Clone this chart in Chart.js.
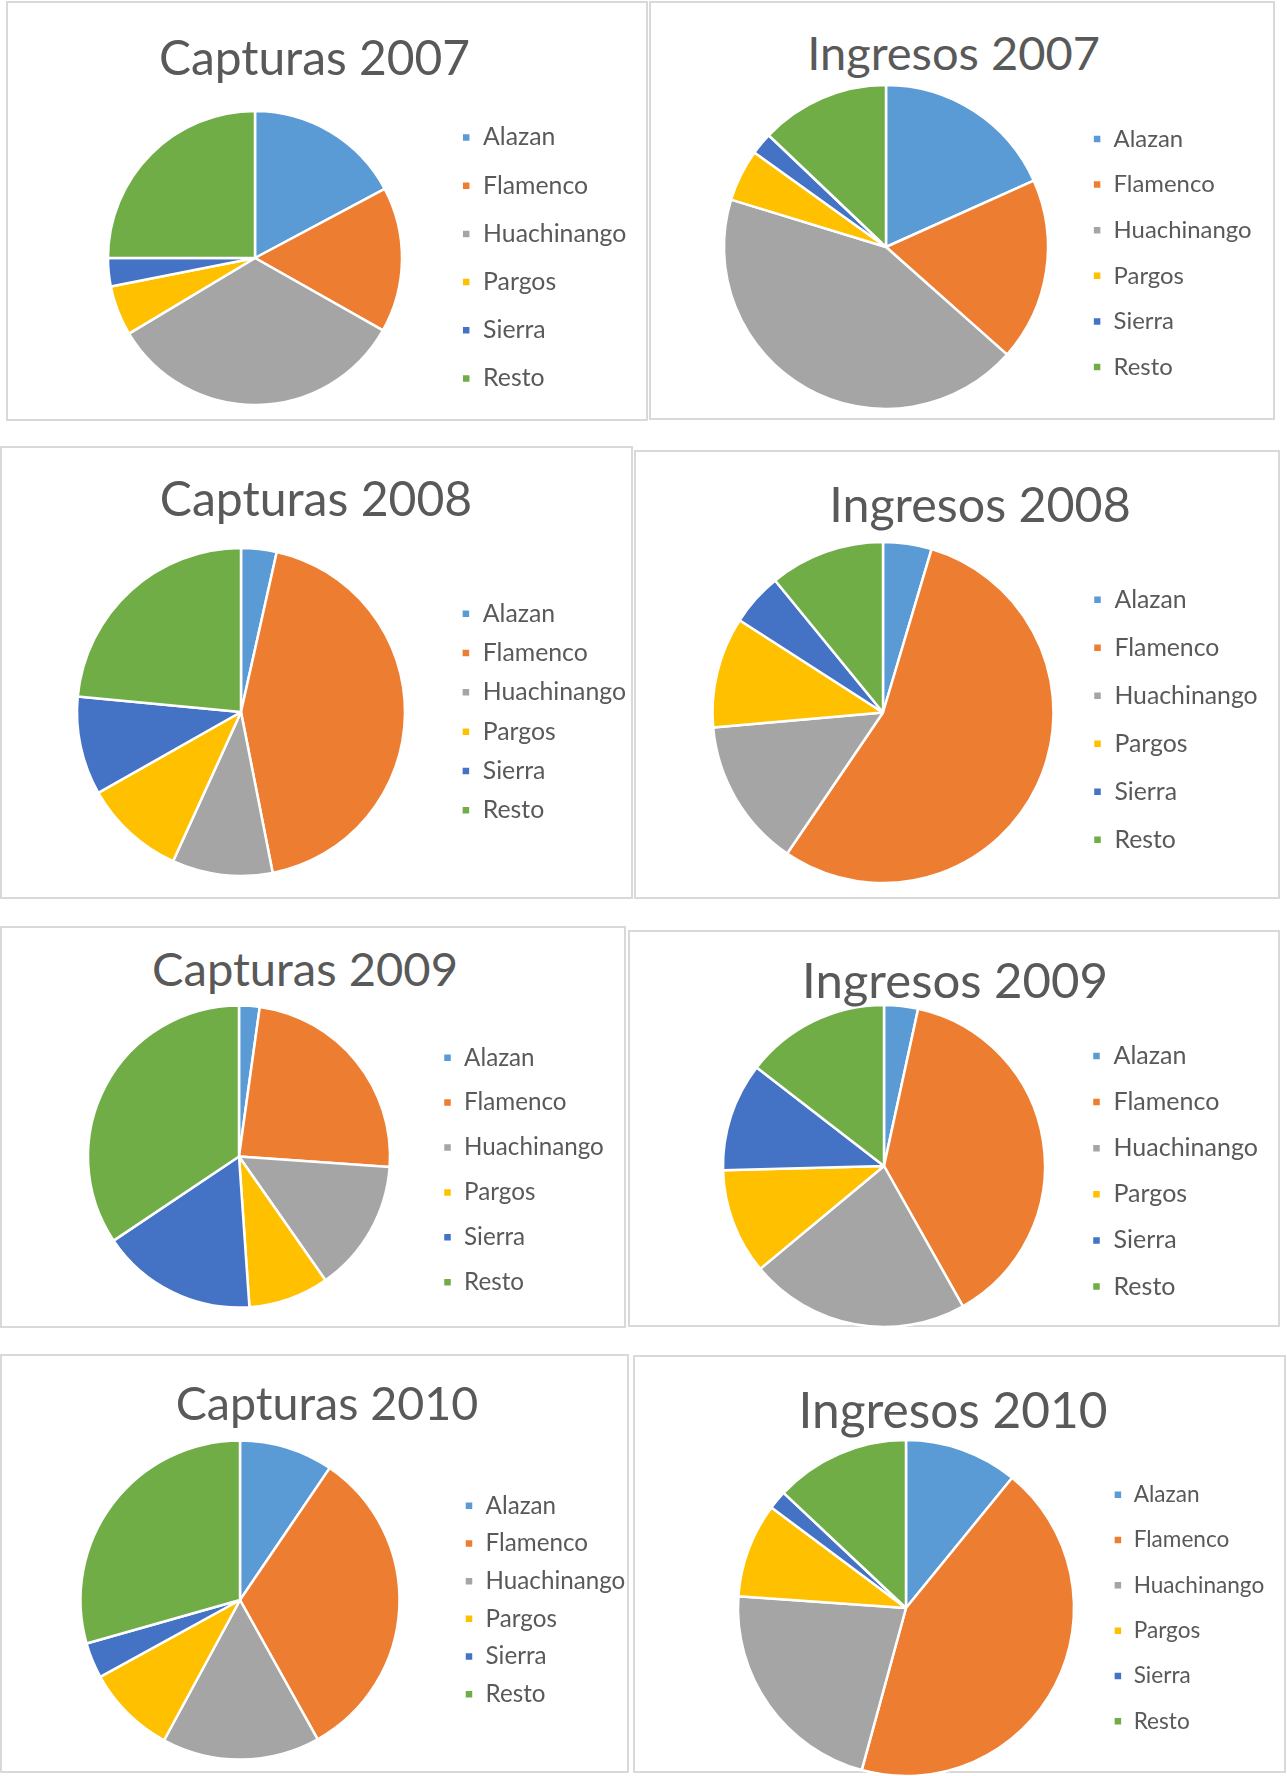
<!DOCTYPE html>
<html>
<head>
<meta charset="utf-8">
<script src="https://cdn.jsdelivr.net/npm/chart.js@4.4.1/dist/chart.umd.min.js"></script>
<style>
    html, body { margin: 0; padding: 0; background: #fff; }
    body { position: relative; width: 1287px; height: 1776px; overflow: hidden; font-family: Lato, sans-serif; }
    .caja { position: absolute; box-sizing: border-box; border: 2px solid #d9d9d9; }
    .titulo { position: absolute; color: #595959; white-space: nowrap; line-height: 1; transform: translateX(-50%); z-index: 2; }
    canvas { position: absolute; z-index: 1; }
</style>
</head>
<body>
<script>
// categorias (leyenda)
const categorias = ['Alazan', 'Flamenco', 'Huachinango', 'Pargos', 'Sierra', 'Resto'];

const capturas2007 = [17.2, 16.0, 33.2, 5.5, 3.1, 25.0];
const ingresos2007 = [18.3, 18.3, 43.2, 5.2, 2.2, 12.9];
const capturas2008 = [3.5, 43.4, 9.9, 10.0, 9.7, 23.5];
const ingresos2008 = [4.6, 54.9, 14.1, 10.5, 5.0, 10.9];
const capturas2009 = [2.2, 23.9, 14.2, 8.6, 16.7, 34.4];
const ingresos2009 = [3.4, 38.4, 22.1, 10.6, 10.9, 14.5];
const capturas2010 = [9.5, 32.4, 16.0, 9.1, 3.6, 29.4];
const ingresos2010 = [10.9, 43.4, 21.9, 9.1, 1.8, 13.0];

const titulos = ['Capturas 2007', 'Ingresos 2007', 'Capturas 2008', 'Ingresos 2008',
                 'Capturas 2009', 'Ingresos 2009', 'Capturas 2010', 'Ingresos 2010'];
const series = [capturas2007, ingresos2007, capturas2008, ingresos2008,
                capturas2009, ingresos2009, capturas2010, ingresos2010];

const colores = ['#5b9bd5', '#ed7d31', '#a5a5a5', '#ffc000', '#4472c4', '#70ad47'];

// posiciones de cada recuadro: caja [x,y,w,h], titulo [cx, y medio, tamaño],
// pastel [cx, cy, radio], leyenda [x cuadrito, paso entre filas, tamaño letra, y primera fila (0 = centrada)]
const paneles = [
    {caja: [6, 1, 642, 420],     titulo: [314.5, 58, 47.9],   pie: [255, 258, 146],    leyenda: [461.7, 48.2, 24.8, 0]},
    {caja: [649, 1, 626, 419],   titulo: [953.6, 53, 47],     pie: [886, 247, 161],    leyenda: [1092.6, 45.6, 23.9, 139]},
    {caja: [0, 446, 633, 453],   titulo: [316, 499.5, 48.1],  pie: [241, 712, 163],    leyenda: [461.4, 39.3, 24.8, 0]},
    {caja: [634, 450, 646, 449], titulo: [980, 504, 48.4],    pie: [883, 712, 169.5],  leyenda: [1093, 48, 24.8, 599.3]},
    {caja: [0, 926, 626, 402],   titulo: [305, 969, 47.1],    pie: [239, 1156, 150],   leyenda: [443, 44.9, 24.2, 1057.3]},
    {caja: [628, 930, 652, 397], titulo: [955, 981, 49.1],    pie: [884, 1166, 160],   leyenda: [1092, 46.1, 25, 1056]},
    {caja: [0, 1354, 629, 419],  titulo: [327, 1403, 46.6],   pie: [240, 1600, 158.5], leyenda: [464.5, 37.7, 24.2, 0]},
    {caja: [633, 1355, 653, 418],titulo: [953, 1410.7, 49.6], pie: [906, 1608, 167],   leyenda: [1113.4, 45.3, 22.6, 0]}
];

const cuadro = 9;

paneles.forEach(function (p, i) {
    const [bx, by, bw, bh] = p.caja;
    const caja = document.createElement('div');
    caja.className = 'caja';
    Object.assign(caja.style, {left: bx + 'px', top: by + 'px', width: bw + 'px', height: bh + 'px'});
    document.body.appendChild(caja);

    const [tx, ty, ts] = p.titulo;
    const t = document.createElement('div');
    t.className = 'titulo';
    t.textContent = titulos[i];
    Object.assign(t.style, {left: tx + 'px', top: (ty - 0.52 * ts) + 'px', fontSize: ts + 'px'});
    document.body.appendChild(t);

    const [cx, cy, r] = p.pie;
    const [lx, paso, fs, y1] = p.leyenda;
    const pad = paso - fs;

    // medio alto del area: centrada, o pegada abajo para que la leyenda empiece en y1
    let alto = 200;
    let alinear = 'center';
    if (y1) {
        alinear = 'end';
        alto = (y1 - fs / 2 + 6 * paso) - cy;
    }
    const medioCanvas = Math.max(alto, r + 6);
    const extra = medioCanvas - alto;

    const cv = document.createElement('canvas');
    cv.width = bw;
    cv.height = Math.round(2 * medioCanvas);
    cv.style.left = bx + 'px';
    cv.style.top = (cy - cv.height / 2) + 'px';
    document.body.appendChild(cv);

    // ancho de la leyenda para dejar el pastel donde va (+10 que agrega chart.js)
    const ctx = cv.getContext('2d');
    ctx.font = fs + 'px Lato';
    const anchoTexto = Math.max.apply(null, categorias.map(c => ctx.measureText(c).width));
    const anchoLeyenda = pad + cuadro + fs / 2 + anchoTexto + 10;
    const izqLeyenda = lx - bx - pad;
    const padIzq = 2 * (cx - bx) - izqLeyenda;
    const padDer = bw - izqLeyenda - anchoLeyenda;

    new Chart(cv, {
        type: 'pie',
        data: {
            labels: categorias,
            datasets: [{
                data: series[i],
                backgroundColor: colores,
                borderColor: '#ffffff',
                borderWidth: 2.5,
                clip: false
            }]
        },
        options: {
            responsive: false,
            animation: false,
            radius: r + 1,
            layout: {padding: {left: padIzq, right: padDer, top: extra, bottom: extra}},
            plugins: {
                legend: {
                    position: 'right',
                    align: alinear,
                    labels: {
                        boxWidth: cuadro,
                        boxHeight: cuadro,
                        padding: pad,
                        color: '#595959',
                        font: {family: 'Lato', size: fs}
                    }
                },
                tooltip: {enabled: false}
            }
        }
    });
});
</script>
</body>
</html>
